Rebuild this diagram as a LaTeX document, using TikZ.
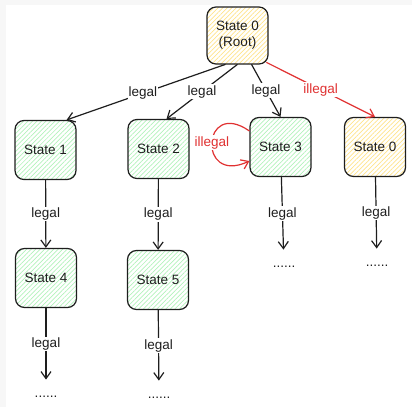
\documentclass[tikz,border=0pt]{standalone}
\usepackage{fontspec}
\setmainfont{Liberation Sans}
\usetikzlibrary{arrows.meta, patterns.meta, positioning}
\definecolor{ink}{HTML}{1E1E1E}
\definecolor{badred}{HTML}{E03131}
\definecolor{hatchgreen}{HTML}{B2F2BB}
\definecolor{hatchyellow}{HTML}{FFE38A}
\definecolor{framegray}{HTML}{F7F7F7}

\begin{document}
\begin{tikzpicture}
        [
            x=1pt, y=-1pt,
            font=\fontsize{13.5}{16}\selectfont,
            state/.style={draw=ink, text=ink, rounded corners=9pt, line width=1.2pt,
                          minimum width=61pt, minimum height=59pt, align=center,
                          pattern={Lines[angle=45,distance=3.2pt,line width=0.7pt]},
                          pattern color=#1},
            dots/.style={inner sep=0pt, text=ink},
            edge/.style={draw=ink, line width=1.2pt,
                         -{Straight Barb[length=7pt,width=10pt]}},
            bad/.style={edge, draw=badred},
            lbl/.style={fill=white, inner sep=1pt, text=ink},
            badlbl/.style={lbl, text=badred}
        ]
        \useasboundingbox (0,0) rectangle (412,407);
        \fill [framegray] (0,0) rectangle (6,407);
        \fill [framegray] (0,0) rectangle (412,5);

        \node (root) [state=hatchyellow, minimum height=57pt] at (237.5,35.5) {State 0\\(Root)};
        \node (s1) [state=hatchgreen] at (45.5,150) {State 1};
        \node (s2) [state=hatchgreen] at (158.5,149) {State 2};
        \node (s3) [state=hatchgreen] at (280.5,147) {State 3};
        \node (s0) [state=hatchyellow] at (375,147) {State 0};
        \node (s4) [state=hatchgreen] at (46,278) {State 4};
        \node (s5) [state=hatchgreen] at (158,280) {State 5};

        \node (d3) [dots] at (284,267) {......};
        \node (d0) [dots] at (377,266) {......};
        \node (d4) [dots] at (46,397) {......};
        \node (d5) [dots] at (159,398) {......};

        \draw [edge] ([xshift=-12pt]root.south) to node[lbl, pos=0.52] {legal}
            ([xshift=-10pt]s1.north east);
        \draw [edge] (root.south) to node[lbl] {legal} ([xshift=8pt]s2.north);
        \draw [edge] ([xshift=14pt]root.south) to node[lbl] {legal} (s3.north);
        \draw [bad] ([xshift=-2pt,yshift=2pt]root.south east) to node[badlbl] {illegal} (s0.north);
        \draw [bad] ([yshift=16pt]s3.west) to [out=145, in=205, distance=58pt]
            node[badlbl] {illegal} ([yshift=-14pt]s3.west);

        \foreach \a/\b in {s1/s4, s2/s5}{
            \draw [edge] (\a) -- node[lbl] {legal} (\b);
        }
        \foreach \a/\b in {s3/d3, s0/d0, s4/d4, s5/d5}{
            \draw [edge, shorten >=16.5pt] (\a) -- node[lbl, pos=0.41] {legal} (\b);
        }
    \end{tikzpicture}
\end{document}
